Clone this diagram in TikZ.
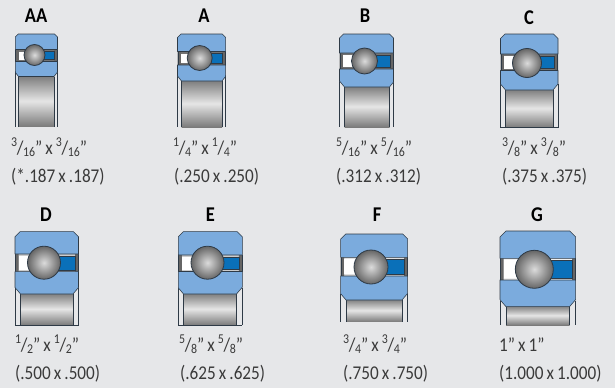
\documentclass[tikz,border=0pt]{standalone}
\usepackage{fontspec}
\setmainfont[FakeStretch=0.88,WordSpace=0.8]{Carlito}
\newcommand{\frc}[2]{\raisebox{0.36em}{\fontsize{13.5}{14}\selectfont #1}\kern-0.02em/\kern-0.02em\raisebox{-0.14em}{\fontsize{13.5}{14}\selectfont #2}}
\definecolor{pagebg}{HTML}{E6E7E9}
\definecolor{ringblue}{HTML}{7BABDD}
\definecolor{sealblue}{HTML}{0A70B9}
\definecolor{edge}{HTML}{2E3A46}
\definecolor{labeltext}{HTML}{3A3A3A}
\tikzset{
  x=1pt,y=-1pt,
  ring/.style={fill=ringblue,draw=edge,line width=0.55pt,line join=round},
  sideline/.style={draw=edge,line width=0.8pt},
  ballshape/.style={draw=edge,line width=0.8pt,inner color=black!14,outer color=black!60},
  rollershape/.style={top color=black!52,bottom color=black!52,middle color=black!10},
  titletext/.style={font=\fontsize{21}{22}\selectfont\bfseries,text=black,inner sep=0pt,anchor=center},
  sizetext/.style={font=\fontsize{19.5}{20}\selectfont,text=labeltext,inner sep=0pt,anchor=base west},
}
\begin{document}
\begin{tikzpicture}
\useasboundingbox (0,0) rectangle (615,388);
\fill[pagebg] (0,0) rectangle (615,388);
% xl/xr/il/ir/top/gaptop/gapbot/bluebot/bottom/cx/cy/r/chamfer/closed/strip
\foreach \xl/\xr/\il/\ir/\t/\gt/\gb/\bb/\b/\cx/\cy/\r/\c/\cl/\st in {
  15.3/57.5/18.5/54/34/49.5/61.5/76.5/126.5/34.5/55/10.5/3/0/55,
  177.5/225.7/181.5/222/34/51.5/65/81/127/199.7/58/12.5/3.5/0/55,
  339.5/393.5/344.5/389.5/34/53/69/87/127/364.5/61/13/4/0/55,
  500.5/558/505.5/553/34/54/70.5/90/127.5/527/63/14.5/4.5/100/55,
  15/78.5/20.5/73/231.7/254/271.7/294/325/44/262.7/16.5/5/100/20,
  178.3/242.3/183.5/236.5/231.7/255/271.5/294/325/207.5/262.7/16.5/5/100/20,
  340.7/407.7/346/402/234/257.3/276/300/321.7/371/267/17/5/0/12,
  500/575.7/506/569.5/231/258.3/280/306.7/325/534.3/269.3/19/6/0/6}
{
  % outer and inner side lines below the rings
  \shade[rollershape] (\il,\bb-1) rectangle (\ir,\b);
  \draw[sideline] (\xl,\bb-6) -- (\xl,\b) (\xr,\bb-6) -- (\xr,\b);
  \draw[sideline] (\il,\bb) -- (\il,\b) (\ir,\bb) -- (\ir,\b);
  \draw[sideline,opacity=\cl/100] (\xl,\b) -- (\xr,\b);
  % raceway band with cage, spacer and seal
  \fill[black!\st!white] (\xl,\gt) rectangle (\xr,\gb);
  \fill[black!60] (\xl,\gt) rectangle (\xl+3.5,\gb) (\xr-3.5,\gt) rectangle (\xr,\gb);
  \draw[edge,line width=0.7pt] (\xl+0.4,\gt) -- (\xl+0.4,\gb) (\xr-0.4,\gt) -- (\xr-0.4,\gb);
  \fill[white] (\xl+3.5,\gt+2) rectangle (\cx,\gb-2);
  \fill[sealblue] (\cx,\gt+2) rectangle (\xr-3.5,\gb-2);
  \draw[edge,line width=0.4pt] (\cx,\gt+2) rectangle (\xr-3.5,\gb-2);
  % rings
  \draw[ring] (\xl,\gt) -- (\xl,\t+\c) -- (\xl+\c,\t) -- (\xr-\c,\t) -- (\xr,\t+\c) -- (\xr,\gt) -- cycle;
  \draw[ring] (\xl,\gb) -- (\xl,\bb-\il+\xl-1) -- (\il,\bb) -- (\ir,\bb) -- (\xr,\bb-\xr+\ir-1) -- (\xr,\gb) -- cycle;
  % ball
  \shade[ballshape] (\cx,\cy) circle[radius=\r];
}
\node[titletext] (tAA) at (36,15.5) {AA};
\node[titletext] (tA) at (204,15.5) {A};
\node[titletext] (tB) at (365,15.5) {B};
\node[titletext] (tC) at (529,17.5) {C};
\node[titletext] (tD) at (46,215) {D};
\node[titletext] (tE) at (210.5,215) {E};
\node[titletext] (tF) at (377,215) {F};
\node[titletext] (tG) at (537,215) {G};
\node[sizetext] (s1a) at (11,154) {\frc{3}{16}" x \frc{3}{16}"};
\node[sizetext] (s1b) at (11,182) {(*.187 x .187)};
\node[sizetext] (s2a) at (173,154) {\frc{1}{4}" x \frc{1}{4}"};
\node[sizetext] (s2b) at (174,182) {(.250 x .250)};
\node[sizetext] (s3a) at (336,154) {\frc{5}{16}" x \frc{5}{16}"};
\node[sizetext] (s3b) at (336,182) {(.312 x .312)};
\node[sizetext] (s4a) at (502,154) {\frc{3}{8}" x \frc{3}{8}"};
\node[sizetext] (s4b) at (502,182) {(.375 x .375)};
\node[sizetext] (s5a) at (15,351) {\frc{1}{2}" x \frc{1}{2}"};
\node[sizetext] (s5b) at (15,379) {(.500 x .500)};
\node[sizetext] (s6a) at (179,351) {\frc{5}{8}" x \frc{5}{8}"};
\node[sizetext] (s6b) at (180,379) {(.625 x .625)};
\node[sizetext] (s7a) at (343,351) {\frc{3}{4}" x \frc{3}{4}"};
\node[sizetext] (s7b) at (343,379) {(.750 x .750)};
\node[sizetext] (s8a) at (499,351) {1" x 1"};
\node[sizetext] (s8b) at (499,379) {(1.000 x 1.000)};
\end{tikzpicture}
\end{document}
